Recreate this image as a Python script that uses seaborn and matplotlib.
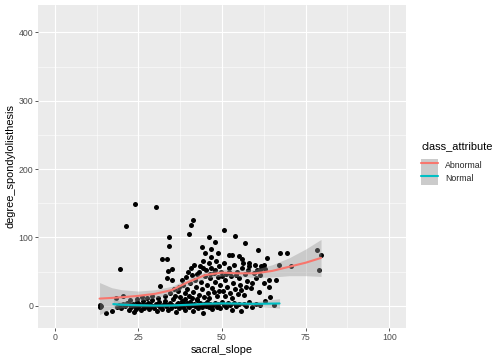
import matplotlib

matplotlib.use("Agg")

import matplotlib.pyplot as plt
import pandas as pd
import seaborn as sns
from matplotlib.legend_handler import HandlerTuple
from matplotlib.lines import Line2D
from matplotlib.patches import Patch

# scatter points (sacral_slope, degree_spondylolisthesis)
slope = [
    13.4, 13.4, 13.8, 15.4, 17.0, 18.2, 19.4, 21.3, 23.9, 30.4,
    32.0, 33.6, 34.2, 34.3, 35.0, 33.8, 33.6, 35.0, 31.6, 40.0,
    40.6, 41.2, 46.2, 48.0, 50.7, 54.0, 57.0, 44.1, 46.7, 45.0,
    48.9, 46.6, 52.1, 52.9, 55.2, 56.0, 60.8, 63.5, 67.2, 69.4,
    78.4, 79.6, 78.9, 64.0, 66.0, 64.0, 64.2, 63.0, 67.0, 70.6,
    61.3, 63.0, 58.0, 62.0, 62.5,
    18.5, 19.2, 19.8, 20.5, 21.0, 21.6, 22.1, 22.4, 22.9, 23.3,
    23.7, 24.0, 24.2, 24.6, 25.0, 25.3, 25.8, 26.1, 26.4, 26.8,
    27.1, 27.5, 27.9, 28.2, 28.5, 28.8, 29.1, 29.5, 29.8, 30.2,
    30.5, 30.9, 31.2, 31.5, 31.9, 32.2, 32.6, 33.0, 33.3, 33.7,
    34.0, 34.4, 34.8, 35.1, 35.5, 35.9, 36.2, 36.5, 36.9, 37.2,
    37.6, 38.0, 38.3, 38.7, 39.0, 39.4, 39.8, 40.1, 40.5, 40.9,
    41.3, 41.6, 42.0, 42.4, 42.8, 43.1, 43.5, 43.9, 44.3, 44.7,
    45.1, 45.6, 46.0, 46.5, 47.0, 47.4, 47.9, 48.4, 48.9, 49.5,
    50.1, 50.6, 51.2, 51.8, 52.5, 53.0, 53.7, 54.3, 55.0, 55.8,
    56.5, 57.2, 58.0, 59.0, 60.1, 61.5, 65.5,
    36.0, 36.8, 37.5, 38.2, 38.8, 39.2, 39.6, 40.0, 40.4, 40.8,
    41.2, 41.5, 41.8, 42.2, 42.6, 43.0, 43.3, 43.7, 44.0, 44.4,
    44.8, 45.1, 45.4, 45.8, 46.1, 46.4, 46.8, 47.1, 47.5, 47.8,
    48.2, 48.5, 48.8, 49.1, 49.4, 49.8, 50.2, 50.5, 50.9, 51.3,
    51.6, 52.0, 52.4, 52.8, 53.2, 53.6, 54.0, 54.5, 55.0, 55.5,
    56.0, 56.5, 57.0, 57.6, 58.2, 58.8, 59.5, 60.2, 61.0, 61.8,
    62.5,
    39.0, 41.0, 42.5, 44.5, 46.0, 47.7, 49.0, 50.8, 53.0, 54.8,
    55.8, 57.3, 59.0, 60.5, 61.3, 59.8, 57.8, 56.2, 54.2, 52.2,
    50.0, 48.0, 46.3, 44.2, 43.0, 41.0, 39.8, 38.0, 37.0, 35.8,
    34.5, 33.0, 31.0, 29.0, 27.5, 26.0, 24.5, 22.5, 20.5,
]
spondy = [
    1.5, -2.5, -0.5, -11.0, -7.4, 12.0, 54.5, 117.0, 148.7, 145.0,
    68.6, 68.6, 88.0, 101.0, 54.5, 50.5, 40.0, 37.0, 28.4, 105.0,
    118.0, 125.0, 100.0, 94.0, 111.0, 101.6, 92.0, 86.0, 82.5, 77.0,
    77.0, 70.7, 74.0, 74.0, 72.6, 68.6, 81.0, 69.7, 76.6, 76.6,
    81.4, 73.6, 53.0, 38.0, 38.0, 27.4, 12.7, 6.3, 59.0, 58.0,
    53.0, 54.5, 58.0, 57.0, 60.0,
    -1.2, 0.8, -3.0, 2.1, -0.5, 4.0, -6.5, 1.0, -2.2, 3.3,
    -8.8, 0.2, -4.0, 5.5, -1.5, 2.8, -6.0, 0.5, 7.0, -3.2,
    1.8, -0.8, 4.5, -5.0, 2.0, -1.0, 9.0, 0.3, -3.5, 3.0,
    -7.0, 1.2, 5.8, -2.0, 0.0, -4.5, 2.5, 6.5, -1.0, 1.5,
    -6.0, 3.8, -2.8, 0.8, 10.5, -0.5, -9.5, 2.2, 4.8, -3.0,
    0.5, 7.5, -1.8, 2.0, -5.5, 3.5, 0.0, -2.5, 5.0, 1.0,
    -7.5, 2.8, -0.5, 8.0, -3.8, 1.5, 4.2, -1.2, -10.5, 2.5,
    0.2, 6.0, -2.0, 3.0, -5.0, 1.0, 4.5, -1.5, 2.2, -3.5,
    5.2, 0.5, -2.5, 3.5, 1.0, -6.5, 4.0, -1.0, 2.0, -8.0,
    3.0, 0.0, 5.5, -2.0, 2.5, 0.5, 1.0,
    15.0, 22.0, 12.5, 30.0, 18.0, 42.0, 25.0, 14.0, 33.0, 55.0,
    20.0, 60.0, 38.0, 28.0, 47.0, 16.0, 58.0, 35.0, 24.0, 66.0,
    44.0, 52.0, 30.0, 18.0, 62.0, 40.0, 55.0, 26.0, 48.0, 35.0,
    65.0, 14.0, 42.0, 58.0, 30.0, 50.0, 22.0, 63.0, 38.0, 46.0,
    28.0, 56.0, 18.0, 44.0, 34.0, 60.0, 24.0, 50.0, 40.0, 30.0,
    55.0, 16.0, 46.0, 36.0, 62.0, 26.0, 48.0, 40.0, 20.0, 58.0,
    33.0,
    10.0, 12.0, 9.5, 13.0, 11.0, 19.5, 21.0, 15.0, 12.0, 17.5,
    23.0, 28.0, 34.0, 52.0, 45.0, 60.0, 52.0, 63.0, 45.0, 50.0,
    44.0, 53.0, 47.0, 56.0, 50.0, 45.0, 50.0, 38.0, 27.0, 24.0,
    18.0, 14.5, 12.0, 15.0, 11.0, 13.5, 10.0, 8.5, 14.0,
]

# loess fits per class
abn_x = [13.4, 17, 20, 25, 30, 35, 40, 45, 50, 55, 60, 65, 70, 75, 79.6]
abn_fit = [10.5, 11.5, 12.5, 14.5, 17.5, 23, 35, 45, 48.5, 47.5, 47.5, 51, 57, 63, 70]
abn_lo = [-13, -3.5, 1.5, 7.5, 11.5, 17.5, 30, 40, 43.5, 42.5, 41.5, 42, 44, 44, 43]
abn_hi = [34, 26.5, 23.5, 21.5, 23.5, 28.5, 40, 50, 53.5, 52.5, 53.5, 60, 70, 83, 97]

nor_x = [17.5, 20, 25, 30, 35, 40, 45, 50, 55, 60, 67.2]
nor_fit = [2.5, 1.5, 0.8, 0.3, 0.5, 1.5, 3, 3.5, 3.2, 2.8, 3.4]
nor_lo = [-5, -3, -1.5, -1.5, -1, 0, 1, 1.5, 1, -0.5, -3.5]
nor_hi = [10, 6, 3, 2, 2, 3, 5, 5.5, 5.5, 6, 10.5]

classes = ["Abnormal", "Normal"]
colors = ["#F8766D", "#00BFC4"]

x_ticks = [0, 25, 50, 75, 100]
y_ticks = [0, 100, 200, 300, 400]


def main() -> None:
    sns.set_theme(style="darkgrid", rc={
        "axes.facecolor": "#EBEBEB",
        "grid.color": "white",
        "axes.edgecolor": "#EBEBEB",
    })
    plt.rcParams["font.family"] = ["Liberation Sans", "DejaVu Sans"]

    points = pd.DataFrame({"sacral_slope": slope, "degree_spondylolisthesis": spondy})
    fits = [
        pd.DataFrame({"x": abn_x, "fit": abn_fit, "lo": abn_lo, "hi": abn_hi}),
        pd.DataFrame({"x": nor_x, "fit": nor_fit, "lo": nor_lo, "hi": nor_hi}),
    ]

    fig = plt.figure(figsize=(7, 5), dpi=72)
    ax = fig.add_axes([38 / 504, 1 - 328 / 360, 368 / 504, 323 / 360])

    sns.scatterplot(
        data=points, x="sacral_slope", y="degree_spondylolisthesis",
        ax=ax, color="black", s=25, linewidth=0, zorder=3,
    )
    band = (0.6, 0.6, 0.6, 0.4)
    for fit, col in zip(fits, colors):
        ax.fill_between(fit["x"], fit["lo"], fit["hi"], color=band, linewidth=0, zorder=4)
        sns.lineplot(data=fit, x="x", y="fit", ax=ax, color=col, linewidth=2.1, zorder=5)

    ax.set_xlim(-5, 105)
    ax.set_ylim(-32.5, 440)
    ax.set_xticks(x_ticks)
    ax.set_yticks(y_ticks)
    ax.set_xticks([12.5, 37.5, 62.5, 87.5], minor=True)
    ax.set_yticks([50, 150, 250, 350], minor=True)
    ax.grid(which="major", color="white", linewidth=1.1)
    ax.grid(which="minor", color="white", linewidth=0.55)
    ax.tick_params(which="major", length=2.75, width=0.8, color="#333333",
                   labelsize=8.8, labelcolor="#4D4D4D", pad=2.2,
                   bottom=True, left=True)
    ax.tick_params(which="minor", length=0)
    for sp in ax.spines.values():
        sp.set_visible(False)
    ax.set_xlabel("sacral_slope", fontsize=11, color="black", labelpad=3)
    ax.set_ylabel("degree_spondylolisthesis", fontsize=11, color="black", labelpad=3)

    # legend: title as text, keys = grey ribbon box with coloured line
    fig.text(421 / 504, 1 - 146.5 / 360, "class_attribute", fontsize=11,
             ha="left", va="center", color="black")
    key_bg = "#CBCBCB"
    handles = [
        (Patch(facecolor=key_bg, edgecolor="none"), Line2D([], [], color=c, linewidth=2.1))
        for c in colors
    ]
    fig.legend(
        handles, classes,
        handler_map={tuple: HandlerTuple(ndivide=1, pad=0)},
        loc="upper left", bbox_to_anchor=(421 / 504, 1 - 158.5 / 360),
        frameon=False, fontsize=8.8,
        handlelength=1.93, handleheight=1.9, handletextpad=0.8,
        labelspacing=0.0, borderpad=0, borderaxespad=0,
    )

    fig.savefig("out.png", dpi=72)
    plt.close(fig)


if __name__ == "__main__":
    main()
